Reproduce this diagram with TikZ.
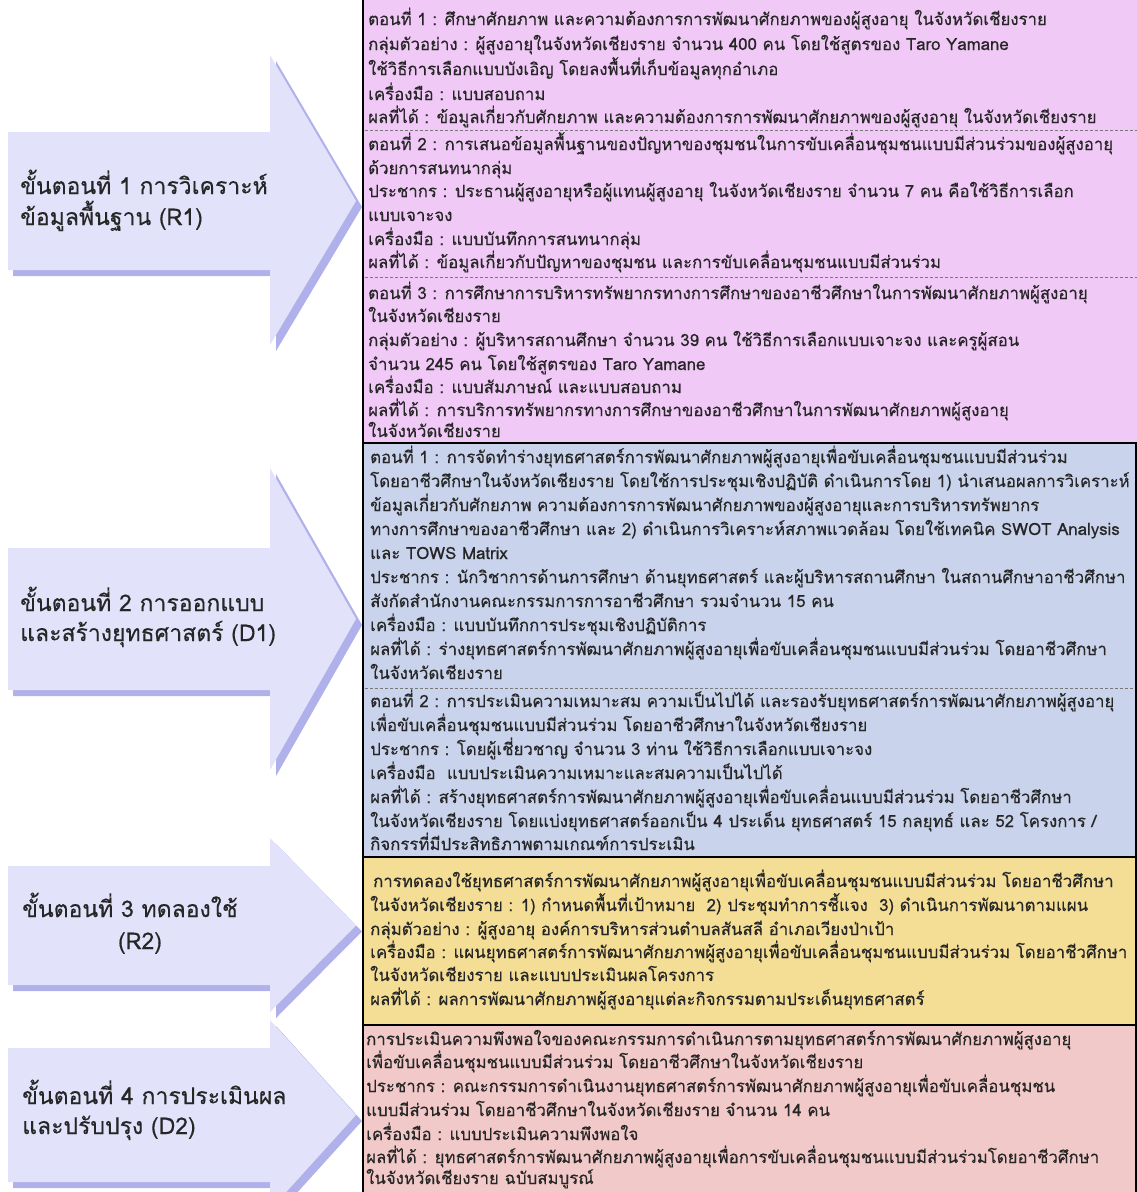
\documentclass[tikz,border=0pt]{standalone}
\usepackage{fontspec}
\newfontfamily\thai[Script=Thai,FakeBold=0.35]{Loma}
\newfontfamily\thailab[Script=Thai,FakeBold=0.3]{Loma}
\usetikzlibrary{calc}
\definecolor{pinkbg}{RGB}{240,201,246}
\definecolor{bluebg}{RGB}{201,211,236}
\definecolor{yellowbg}{RGB}{244,222,150}
\definecolor{redbg}{RGB}{242,201,201}
\definecolor{arrowlight}{RGB}{226,226,250}
\definecolor{arrowdark}{RGB}{176,176,234}
\definecolor{dashgray}{RGB}{120,120,120}
\tikzset{
  ln/.style={anchor=base west,yshift=-5pt,inner sep=0pt,font=\thai\fontsize{16.8}{17}\selectfont,text=black!85},
  lab/.style={anchor=base west,yshift=-7pt,inner sep=0pt,font=\thailab\fontsize{23}{24}\selectfont,text=black!85},
  sep/.style={dashgray,densely dashed,line width=0.8pt},
  border/.style={black,line width=1.6pt},
}
\newcommand{\blockarrow}[5]{% name, body top, body bottom, head top, head bottom
  \pgfmathsetmacro{\mid}{(#2+#3)/2}
  \fill[arrowdark] (13,#2+6) -- (276,#2+6) -- (276,#4+6) -- (362,\mid+6) -- (276,#5+6) -- (276,#3+6) -- (13,#3+6) -- cycle;
  \fill[arrowlight] (8,#2) -- (270,#2) -- (270,#4) -- (356,\mid) -- (270,#5) -- (270,#3) -- (8,#3) -- cycle;
  \coordinate (#1) at (8,\mid);
}
\begin{document}
\begin{tikzpicture}[x=1pt,y=-1pt]
\useasboundingbox (0,0) rectangle (1137,1192);
\fill[white] (0,0) rectangle (1137,1192);
% arrows
\blockarrow{a1}{132}{270}{55}{345}
\blockarrow{a2}{548}{690}{468}{770}
\blockarrow{a3}{866}{985}{838}{1012}
\blockarrow{a4}{1048}{1182}{1020}{1210}
% panels
\fill[pinkbg] (363,0) rectangle (1137,443);
\fill[bluebg] (363,443) rectangle (1137,857);
\fill[yellowbg] (363,857) rectangle (1137,1025);
\fill[redbg] (363,1025) rectangle (1137,1192);
\draw[sep] (365,130) -- (1137,130);
\draw[sep] (365,277) -- (1137,277);
\draw[sep] (365,688) -- (1137,688);
% left labels
\node[lab] (l1a) at (20,187) {ขั้นตอนที่ 1 การวิเคราะห์};
\node[lab] (l1b) at (20,218) {ข้อมูลพื้นฐาน (R1)};
\node[lab] (l2a) at (20,604) {ขั้นตอนที่ 2 การออกแบบ};
\node[lab] (l2b) at (20,634) {และสร้างยุทธศาสตร์ (D1)};
\node[lab] (l3a) at (22,910) {ขั้นตอนที่ 3 ทดลองใช้};
\node[lab,anchor=base] (l3b) at (140,942) {(R2)};
\node[lab] (l4a) at (22,1097) {ขั้นตอนที่ 4 การประเมินผล};
\node[lab] (l4b) at (22,1127) {และปรับปรุง (D2)};
% pink
\node[ln] (p1) at (368,20) {ตอนที่ 1 : ศึกษาศักยภาพ และความต้องการการพัฒนาศักยภาพของผู้สูงอายุ ในจังหวัดเชียงราย};
\node[ln] (p2) at (368,45) {กลุ่มตัวอย่าง : ผู้สูงอายุในจังหวัดเชียงราย จำนวน 400 คน โดยใช้สูตรของ Taro Yamane};
\node[ln] (p3) at (368,70) {ใช้วิธีการเลือกแบบบังเอิญ โดยลงพื้นที่เก็บข้อมูลทุกอำเภอ};
\node[ln] (p4) at (368,95) {เครื่องมือ : แบบสอบถาม};
\node[ln] (p5) at (368,118) {ผลที่ได้ : ข้อมูลเกี่ยวกับศักยภาพ และความต้องการการพัฒนาศักยภาพของผู้สูงอายุ ในจังหวัดเชียงราย};
\node[ln] (p6) at (368,145) {ตอนที่ 2 : การเสนอข้อมูลพื้นฐานของปัญหาของชุมชนในการขับเคลื่อนชุมชนแบบมีส่วนร่วมของผู้สูงอายุ};
\node[ln] (p7) at (368,169) {ด้วยการสนทนากลุ่ม};
\node[ln] (p8) at (368,192) {ประชากร : ประธานผู้สูงอายุหรือผู้แทนผู้สูงอายุ ในจังหวัดเชียงราย จำนวน 7 คน คือใช้วิธีการเลือก};
\node[ln] (p9) at (368,216) {แบบเจาะจง};
\node[ln] (p10) at (368,240) {เครื่องมือ : แบบบันทึกการสนทนากลุ่ม};
\node[ln] (p11) at (368,263) {ผลที่ได้ : ข้อมูลเกี่ยวกับปัญหาของชุมชน และการขับเคลื่อนชุมชนแบบมีส่วนร่วม};
\node[ln] (p12) at (368,294) {ตอนที่ 3 : การศึกษาการบริหารทรัพยากรทางการศึกษาของอาชีวศึกษาในการพัฒนาศักยภาพผู้สูงอายุ};
\node[ln] (p13) at (368,317) {ในจังหวัดเชียงราย};
\node[ln] (p14) at (368,341) {กลุ่มตัวอย่าง : ผู้บริหารสถานศึกษา จำนวน 39 คน ใช้วิธีการเลือกแบบเจาะจง และครูผู้สอน};
\node[ln] (p15) at (368,365) {จำนวน 245 คน โดยใช้สูตรของ Taro Yamane};
\node[ln] (p16) at (368,388) {เครื่องมือ : แบบสัมภาษณ์ และแบบสอบถาม};
\node[ln] (p17) at (368,411) {ผลที่ได้ : การบริการทรัพยากรทางการศึกษาของอาชีวศึกษาในการพัฒนาศักยภาพผู้สูงอายุ};
\node[ln] (p18) at (368,432) {ในจังหวัดเชียงราย};
% blue
\node[ln] (b1) at (370,458) {ตอนที่ 1 : การจัดทำร่างยุทธศาสตร์การพัฒนาศักยภาพผู้สูงอายุเพื่อขับเคลื่อนชุมชนแบบมีส่วนร่วม};
\node[ln] (b2) at (370,482) {โดยอาชีวศึกษาในจังหวัดเชียงราย โดยใช้การประชุมเชิงปฏิบัติ ดำเนินการโดย 1) นำเสนอผลการวิเคราะห์};
\node[ln] (b3) at (370,506) {ข้อมูลเกี่ยวกับศักยภาพ ความต้องการการพัฒนาศักยภาพของผู้สูงอายุและการบริหารทรัพยากร};
\node[ln] (b4) at (370,530) {ทางการศึกษาของอาชีวศึกษา และ 2) ดำเนินการวิเคราะห์สภาพแวดล้อม โดยใช้เทคนิค SWOT Analysis};
\node[ln] (b5) at (370,554) {และ TOWS Matrix};
\node[ln] (b6) at (370,578) {ประชากร : นักวิชาการด้านการศึกษา ด้านยุทธศาสตร์ และผู้บริหารสถานศึกษา ในสถานศึกษาอาชีวศึกษา};
\node[ln] (b7) at (370,602) {สังกัดสำนักงานคณะกรรมการการอาชีวศึกษา รวมจำนวน 15 คน};
\node[ln] (b8) at (370,626) {เครื่องมือ : แบบบันทึกการประชุมเชิงปฏิบัติการ};
\node[ln] (b9) at (370,650) {ผลที่ได้ : ร่างยุทธศาสตร์การพัฒนาศักยภาพผู้สูงอายุเพื่อขับเคลื่อนชุมชนแบบมีส่วนร่วม โดยอาชีวศึกษา};
\node[ln] (b10) at (370,674) {ในจังหวัดเชียงราย};
\node[ln] (b11) at (370,702) {ตอนที่ 2 : การประเมินความเหมาะสม ความเป็นไปได้ และรองรับยุทธศาสตร์การพัฒนาศักยภาพผู้สูงอายุ};
\node[ln] (b12) at (370,726) {เพื่อขับเคลื่อนชุมชนแบบมีส่วนร่วม โดยอาชีวศึกษาในจังหวัดเชียงราย};
\node[ln] (b13) at (370,750) {ประชากร : โดยผู้เชี่ยวชาญ จำนวน 3 ท่าน ใช้วิธีการเลือกแบบเจาะจง};
\node[ln] (b14) at (370,774) {เครื่องมือ\ \ แบบประเมินความเหมาะและสมความเป็นไปได้};
\node[ln] (b15) at (370,798) {ผลที่ได้ : สร้างยุทธศาสตร์การพัฒนาศักยภาพผู้สูงอายุเพื่อขับเคลื่อนแบบมีส่วนร่วม โดยอาชีวศึกษา};
\node[ln] (b16) at (370,822) {ในจังหวัดเชียงราย โดยแบ่งยุทธศาสตร์ออกเป็น 4 ประเด็น ยุทธศาสตร์ 15 กลยุทธ์ และ 52 โครงการ /};
\node[ln] (b17) at (370,845) {กิจกรรที่มีประสิทธิภาพตามเกณฑ์การประเมิน};
% yellow
\node[ln] (y1) at (373,882) {การทดลองใช้ยุทธศาสตร์การพัฒนาศักยภาพผู้สูงอายุเพื่อขับเคลื่อนชุมชนแบบมีส่วนร่วม โดยอาชีวศึกษา};
\node[ln] (y2) at (370,906) {ในจังหวัดเชียงราย : 1) กำหนดพื้นที่เป้าหมาย\ \ 2) ประชุมทำการชี้แจง\ \ 3) ดำเนินการพัฒนาตามแผน};
\node[ln] (y3) at (370,930) {กลุ่มตัวอย่าง : ผู้สูงอายุ องค์การบริหารส่วนตำบลสันสลี อำเภอเวียงป่าเป้า};
\node[ln] (y4) at (370,953) {เครื่องมือ : แผนยุทธศาสตร์การพัฒนาศักยภาพผู้สูงอายุเพื่อขับเคลื่อนชุมชนแบบมีส่วนร่วม โดยอาชีวศึกษา};
\node[ln] (y5) at (370,976) {ในจังหวัดเชียงราย และแบบประเมินผลโครงการ};
\node[ln] (y6) at (370,1000) {ผลที่ได้ : ผลการพัฒนาศักยภาพผู้สูงอายุแต่ละกิจกรรมตามประเด็นยุทธศาสตร์};
% red
\node[ln] (r1) at (366,1040) {การประเมินความพึงพอใจของคณะกรรมการดำเนินการตามยุทธศาสตร์การพัฒนาศักยภาพผู้สูงอายุ};
\node[ln] (r2) at (366,1063) {เพื่อขับเคลื่อนชุมชนแบบมีส่วนร่วม โดยอาชีวศึกษาในจังหวัดเชียงราย};
\node[ln] (r3) at (366,1087) {ประชากร : คณะกรรมการดำเนินงานยุทธศาสตร์การพัฒนาศักยภาพผู้สูงอายุเพื่อขับเคลื่อนชุมชน};
\node[ln] (r4) at (366,1111) {แบบมีส่วนร่วม โดยอาชีวศึกษาในจังหวัดเชียงราย จำนวน 14 คน};
\node[ln] (r5) at (366,1135) {เครื่องมือ : แบบประเมินความพึงพอใจ};
\node[ln] (r6) at (366,1158) {ผลที่ได้ : ยุทธศาสตร์การพัฒนาศักยภาพผู้สูงอายุเพื่อการขับเคลื่อนชุมชนแบบมีส่วนร่วมโดยอาชีวศึกษา};
\node[ln] (r7) at (366,1179) {ในจังหวัดเชียงราย ฉบับสมบูรณ์};
% borders on top
\draw[border] (363,0) -- (363,1192);
\draw[border] (363,443) -- (1137,443);
\draw[border] (363,857) -- (1137,857);
\draw[border] (363,1025) -- (1137,1025);
\draw[border] (1136,443) -- (1136,1192);
\end{tikzpicture}
\end{document}
